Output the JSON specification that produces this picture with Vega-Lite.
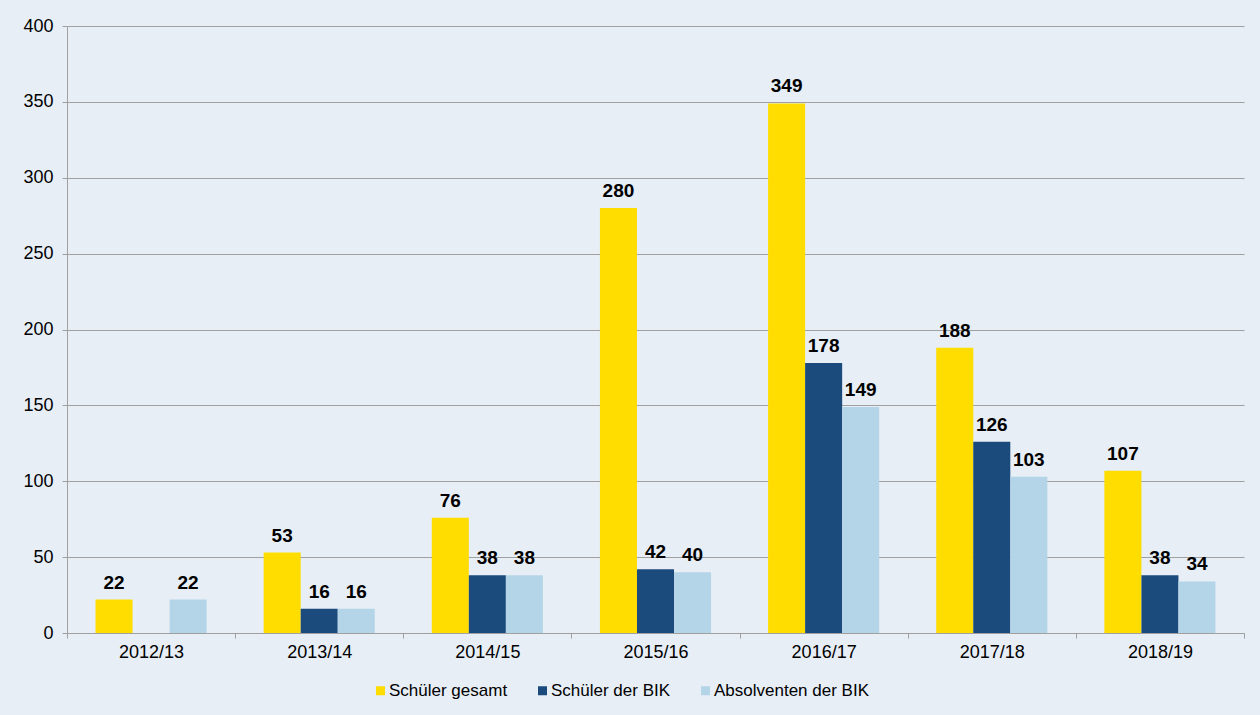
{
  "$schema": "https://vega.github.io/schema/vega-lite/v6.json",
  "width": 1177,
  "height": 607,
  "autosize": {"type": "none"},
  "padding": {"left": 67, "top": 26, "right": 16, "bottom": 82},
  "background": "#E7EEF6",
  "config": {
    "view": {"stroke": null},
    "font": "Liberation Sans",
    "axis": {"labelFont": "Liberation Sans", "labelColor": "#000000", "labelFontSize": 18, "domainColor": "#A0A0A0", "tickColor": "#A0A0A0", "gridColor": "#A0A0A0", "tickSize": 5, "title": null}
  },
  "data": {
    "values": [
      {"jahr": "2012/13", "serie": "Schüler gesamt", "wert": 22},
      {"jahr": "2012/13", "serie": "Absolventen der BIK", "wert": 22},
      {"jahr": "2013/14", "serie": "Schüler gesamt", "wert": 53},
      {"jahr": "2013/14", "serie": "Schüler der BIK", "wert": 16},
      {"jahr": "2013/14", "serie": "Absolventen der BIK", "wert": 16},
      {"jahr": "2014/15", "serie": "Schüler gesamt", "wert": 76},
      {"jahr": "2014/15", "serie": "Schüler der BIK", "wert": 38},
      {"jahr": "2014/15", "serie": "Absolventen der BIK", "wert": 38},
      {"jahr": "2015/16", "serie": "Schüler gesamt", "wert": 280},
      {"jahr": "2015/16", "serie": "Schüler der BIK", "wert": 42},
      {"jahr": "2015/16", "serie": "Absolventen der BIK", "wert": 40},
      {"jahr": "2016/17", "serie": "Schüler gesamt", "wert": 349},
      {"jahr": "2016/17", "serie": "Schüler der BIK", "wert": 178},
      {"jahr": "2016/17", "serie": "Absolventen der BIK", "wert": 149},
      {"jahr": "2017/18", "serie": "Schüler gesamt", "wert": 188},
      {"jahr": "2017/18", "serie": "Schüler der BIK", "wert": 126},
      {"jahr": "2017/18", "serie": "Absolventen der BIK", "wert": 103},
      {"jahr": "2018/19", "serie": "Schüler gesamt", "wert": 107},
      {"jahr": "2018/19", "serie": "Schüler der BIK", "wert": 38},
      {"jahr": "2018/19", "serie": "Absolventen der BIK", "wert": 34}
    ]
  },
  "encoding": {
    "x": {
      "field": "jahr", "type": "nominal",
      "scale": {"paddingInner": 0, "paddingOuter": 0},
      "axis": {"labelAngle": 0, "tickBand": "extent", "labelPadding": 5, "grid": false}
    },
    "xOffset": {
      "field": "serie", "type": "nominal",
      "sort": ["Schüler gesamt", "Schüler der BIK", "Absolventen der BIK"],
      "scale": {"domain": ["Schüler gesamt", "Schüler der BIK", "Absolventen der BIK"], "paddingInner": 0, "paddingOuter": 0.77}
    },
    "y": {
      "field": "wert", "type": "quantitative",
      "scale": {"domain": [0, 400]},
      "axis": {"values": [0, 50, 100, 150, 200, 250, 300, 350, 400], "grid": true, "labelPadding": 9}
    }
  },
  "layer": [
    {
      "mark": {"type": "bar"},
      "encoding": {
        "color": {
          "field": "serie", "type": "nominal",
          "scale": {"domain": ["Schüler gesamt", "Schüler der BIK", "Absolventen der BIK"], "range": ["#FFDD00", "#1B4B7D", "#B4D5E7"]},
          "legend": {
            "title": null, "orient": "none", "direction": "horizontal",
            "legendX": 305, "legendY": 656,
            "symbolType": "square", "symbolSize": 81, "symbolStrokeWidth": 0,
            "labelFontSize": 17, "labelFont": "Liberation Sans", "labelColor": "#000000",
            "labelOffset": 0, "columnPadding": 26
          }
        }
      }
    },
    {
      "mark": {"type": "text", "baseline": "alphabetic", "dy": -11, "fontSize": 19, "fontWeight": "bold", "font": "Liberation Sans", "color": "#000000"},
      "encoding": {"text": {"field": "wert", "type": "quantitative"}}
    }
  ]
}
